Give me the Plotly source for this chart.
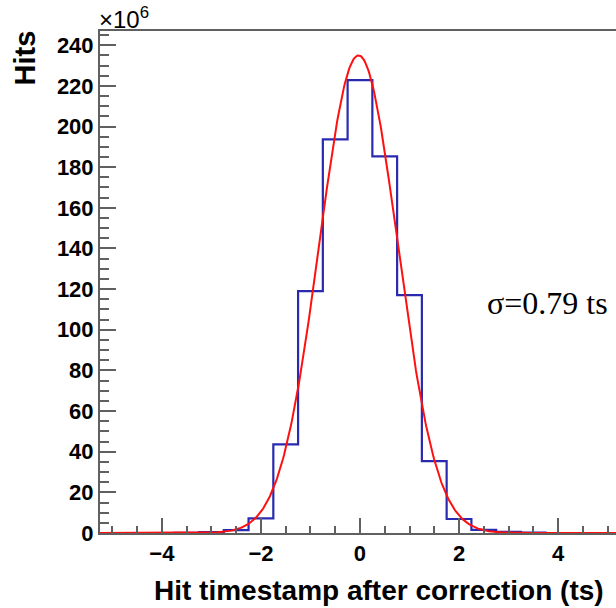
import numpy as np
import plotly.graph_objects as go

# Histogram data (hits in units of 10^6), bins of width 0.5 centred on these values
bin_centers = [-5.0, -4.5, -4.0, -3.5, -3.0, -2.5, -2.0, -1.5, -1.0, -0.5, 0.0,
               0.5, 1.0, 1.5, 2.0, 2.5, 3.0, 3.5, 4.0, 4.5, 5.0]
counts = [0.0, 0.0, 0.0, 0.1, 0.5, 1.4, 7.2, 43.6, 119.0, 193.7, 222.8,
          185.3, 117.0, 35.4, 6.9, 1.5, 0.6, 0.2, 0.0, 0.0, 0.0]
bin_width = 0.5

# Gaussian fit parameters
fit_amp = 235.0
fit_mean = -0.03
fit_sigma = 0.79

x_tick_vals = [-4, -2, 0, 2, 4]
x_tick_text = ["\u22124", "\u22122", "0", "2", "4"]
y_tick_vals = [0, 20, 40, 60, 80, 100, 120, 140, 160, 180, 200, 220, 240]

# step outline
edges = [c - bin_width / 2 for c in bin_centers] + [bin_centers[-1] + bin_width / 2]
step_y = counts + [counts[-1]]

fx = np.linspace(edges[0], edges[-1], 600)
fy = fit_amp * np.exp(-0.5 * ((fx - fit_mean) / fit_sigma) ** 2)

fig = go.Figure()
fig.add_trace(go.Scatter(x=edges, y=step_y, mode="lines", line_shape="hv",
                         line=dict(color="#2a2ab0", width=2.2), showlegend=False,
                         hoverinfo="skip"))
fig.add_trace(go.Scatter(x=fx, y=fy, mode="lines",
                         line=dict(color="#ff1010", width=2), showlegend=False,
                         hoverinfo="skip"))

sans = "Liberation Sans, Arial, sans-serif"
tick_font = dict(family=sans, size=22, color="black", weight="bold")
axis_col = "#606060"

fig.update_layout(
    width=616, height=608,
    margin=dict(l=100, r=0, t=31, b=75),
    paper_bgcolor="white", plot_bgcolor="white",
    xaxis=dict(range=[-5.25, 5.17], showgrid=False, zeroline=False,
               tickmode="array", tickvals=x_tick_vals, ticktext=x_tick_text,
               ticks="inside", ticklen=15, tickwidth=2, tickcolor=axis_col,
               minor=dict(ticks="inside", dtick=0.5, tick0=0, ticklen=7,
                          tickwidth=2, tickcolor=axis_col, showgrid=False),
               showline=True, linecolor=axis_col, linewidth=2, mirror=True,
               tickfont=tick_font, fixedrange=True),
    yaxis=dict(range=[0, 247], showgrid=False, zeroline=False,
               tickmode="array", tickvals=y_tick_vals,
               ticks="inside", ticklen=16, tickwidth=2, tickcolor=axis_col,
               minor=dict(ticks="inside", dtick=5, tick0=0, ticklen=9,
                          tickwidth=2, tickcolor=axis_col, showgrid=False),
               showline=True, linecolor=axis_col, linewidth=2,
               tickfont=tick_font, fixedrange=True),
    font=dict(family=sans, color="black"),
)

fig.add_annotation(text="<b>Hit timestamp after correction (ts)</b>",
                   xref="paper", yref="paper", x=1, y=0, xanchor="right", yanchor="middle",
                   xshift=-10, yshift=-57, showarrow=False,
                   font=dict(family=sans, size=28, color="black"))
fig.add_annotation(text="<b>Hits</b>", textangle=-90,
                   xref="paper", yref="paper", x=0, y=1, xanchor="center", yanchor="top",
                   xshift=-76, yshift=2, showarrow=False,
                   font=dict(family=sans, size=29, color="black"))
fig.add_annotation(text="\u00d710<sup>6</sup>",
                   xref="paper", yref="paper", x=0, y=1, xanchor="left", yanchor="bottom",
                   xshift=-3, yshift=-4, showarrow=False,
                   font=dict(family=sans, size=24, color="black"))
fig.add_annotation(text="\u03c3=0.79 ts",
                   xref="paper", yref="paper", x=1, y=0, xanchor="right", yanchor="middle",
                   xshift=-6, yshift=230, showarrow=False,
                   font=dict(family="Liberation Serif, Times New Roman, serif", size=32, color="black"))

fig.write_html("out.html")
